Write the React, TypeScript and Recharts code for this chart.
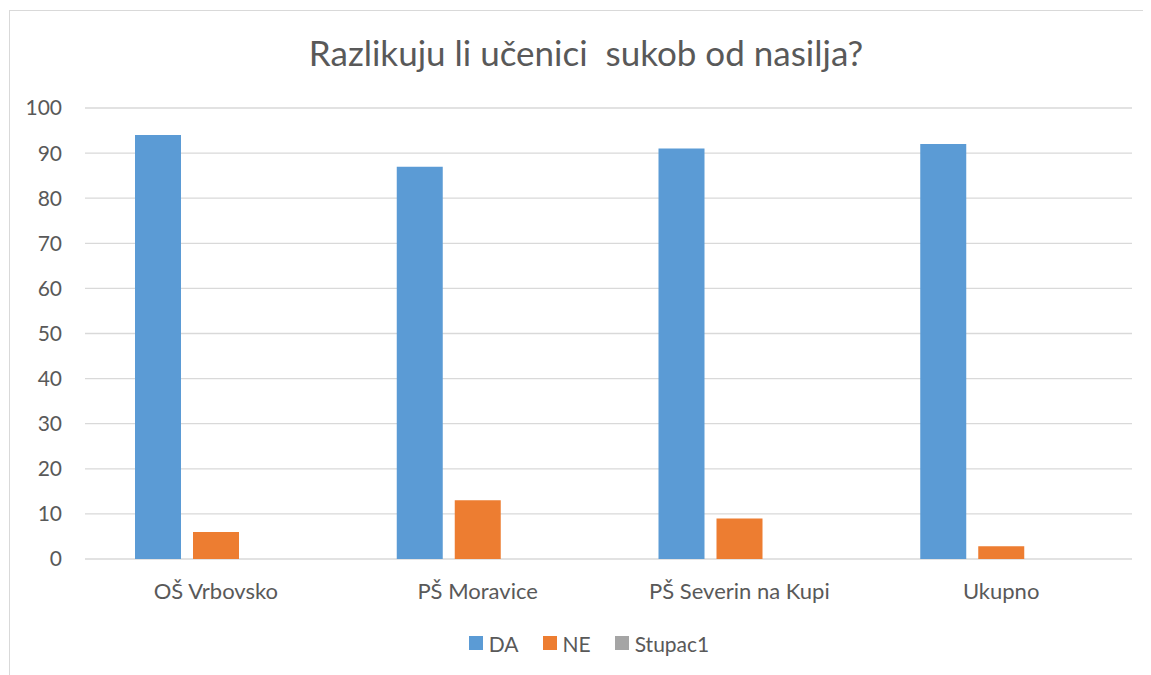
import { Bar, BarChart, CartesianGrid, Legend, XAxis, YAxis } from "recharts";

const skole = ["OŠ Vrbovsko", "PŠ Moravice", "PŠ Severin na Kupi", "Ukupno"];
const da = [94, 87, 91, 92];
const ne = [6, 13, 9, 2.8];
const stupac1 = [0, 0, 0, 0];
const yTicks = [0, 10, 20, 30, 40, 50, 60, 70, 80, 90, 100];

const serije = [
  { key: "DA", color: "#5B9BD5" },
  { key: "NE", color: "#ED7D31" },
  { key: "Stupac1", color: "#A5A5A5" },
];

const data = skole.map((s, i) => ({ skola: s, DA: da[i], NE: ne[i], Stupac1: stupac1[i] }));

const txt = "#595959";
const font = "Lato, 'Open Sans', sans-serif";

// legenda kao u Excelu: kvadratic + tekst
function Legenda() {
  return (
    <div style={{ display: "flex", justifyContent: "center", alignItems: "center", gap: 24, height: 24, paddingLeft: 17, fontFamily: font, fontSize: 21, color: txt }}>
      {serije.map((s) => (
        <div key={s.key} style={{ display: "flex", alignItems: "center" }}>
          <span style={{ width: 14, height: 14, background: s.color, marginRight: 6, display: "inline-block" }} />
          <span>{s.key}</span>
        </div>
      ))}
    </div>
  );
}

export default function App() {
  return (
    <div style={{ position: "relative", width: 1141, height: 664, marginLeft: 1, marginTop: 2, borderLeft: "1px solid #D9D9D9", borderTop: "1px solid #D9D9D9", fontFamily: font }}>
      <div style={{ position: "absolute", top: 20, left: 0, width: 1152, textAlign: "center", fontSize: 35, lineHeight: 1.2, color: txt, whiteSpace: "pre" }}>
        {"Razlikuju li učenici  sukob od nasilja?"}
      </div>
      <BarChart width={1141} height={664} data={data} margin={{ top: 97, right: 19, left: 0, bottom: 62 }} barCategoryGap={50} barGap={12}>
        <CartesianGrid vertical={false} stroke="#D9D9D9" strokeWidth={1.3} />
        <XAxis dataKey="skola" axisLine={false} tickLine={false} tickSize={0} tickMargin={24} height={30} tick={{ fill: txt, fontSize: 22, fontFamily: font }} />
        <YAxis domain={[0, 100]} ticks={yTicks} axisLine={false} tickLine={false} tickSize={0} tickMargin={23} width={75} tick={{ fill: txt, fontSize: 21, fontFamily: font }} />
        <Legend verticalAlign="bottom" content={() => <Legenda />} wrapperStyle={{ top: 620, left: 0, width: 1141 }} />
        {serije.map((s) => (
          <Bar key={s.key} dataKey={s.key} fill={s.color} isAnimationActive={false} />
        ))}
      </BarChart>
    </div>
  );
}
